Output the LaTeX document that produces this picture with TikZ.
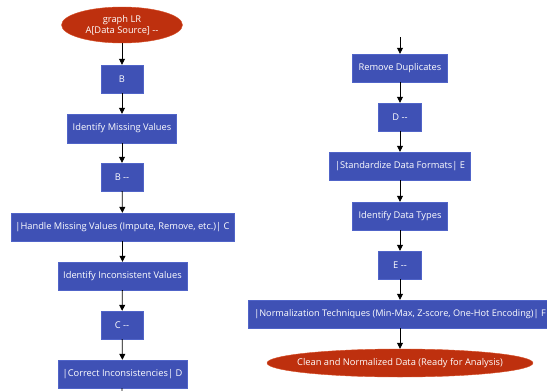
\documentclass[tikz,border=0pt]{standalone}
\usepackage{fontspec}
\setmainfont{Open Sans}
\usetikzlibrary{shapes.geometric,arrows.meta}
\definecolor{boxblue}{RGB}{63,81,181}
\definecolor{boxedge}{RGB}{80,100,200}
\definecolor{ovalred}{RGB}{190,48,14}
\definecolor{ovaledge}{RGB}{215,80,40}
\tikzset{
  stepbox/.style={draw=boxedge,fill=boxblue,text=white,font=\fontsize{9.3}{11}\selectfont,inner sep=0pt,minimum height=28pt,align=center},
  oval/.style={ellipse,draw=ovaledge,fill=ovalred,text=white,font=\fontsize{9.3}{11}\selectfont,inner sep=0pt,align=center},
  flow/.style={draw=black,line width=0.8pt,-{Triangle[length=6pt,width=6pt]}},
}
\begin{document}
\begin{tikzpicture}[x=1pt,y=-1pt]
\useasboundingbox (0,0) rectangle (547,391);
\node[oval,minimum width=121pt,minimum height=36pt] (A) at (122,25) {graph LR\\A[Data Source] -{}-};
\node[stepbox,minimum width=42pt] (B) at (122,79) {B};
\node[stepbox,minimum width=109pt,minimum height=29pt] (IMV) at (122,128.5) {Identify Missing Values};
\node[stepbox,minimum width=42pt] (B2) at (122,177) {B -{}-};
\node[stepbox,minimum width=223pt] (HMV) at (122.5,227) {|Handle Missing Values (Impute, Remove, etc.)| C};
\node[stepbox,minimum width=129pt] (IIV) at (122.5,276) {Identify Inconsistent Values};
\node[stepbox,minimum width=42pt] (C2) at (122,325) {C -{}-};
\node[stepbox,minimum width=129pt] (CI) at (122.5,374) {|Correct Inconsistencies| D};
\coordinate (Lend) at (122,391);
\coordinate (Rstart) at (400,37);
\node[stepbox,minimum width=95pt] (RD) at (400,68) {Remove Duplicates};
\node[stepbox,minimum width=43pt] (D2) at (400,117) {D -{}-};
\node[stepbox,minimum width=141pt] (SDF) at (400,166) {|Standardize Data Formats| E};
\node[stepbox,minimum width=95pt] (IDT) at (400,216) {Identify Data Types};
\node[stepbox,minimum width=43pt] (E2) at (400,265) {E -{}-};
\node[stepbox,minimum width=304pt,font=\fontsize{9.15}{11}\selectfont] (NT) at (400,314) {|Normalization Techniques (Min-Max, Z-score, One-Hot Encoding)| F};
\node[oval,minimum width=266pt,minimum height=28pt,inner xsep=-9pt] (CL) at (400,363) {Clean and Normalized Data (Ready for Analysis)};
\draw[flow] (A) -- (B);
\draw[flow] (B) -- (IMV);
\draw[flow] (IMV) -- (B2);
\draw[flow] (B2) -- (HMV);
\draw[flow] (HMV) -- (IIV);
\draw[flow] (IIV) -- (C2);
\draw[flow] (C2) -- (CI);
\draw[draw=black,line width=0.8pt] (CI) -- (Lend);
\draw[flow] (Rstart) -- (RD);
\draw[flow] (RD) -- (D2);
\draw[flow] (D2) -- (SDF);
\draw[flow] (SDF) -- (IDT);
\draw[flow] (IDT) -- (E2);
\draw[flow] (E2) -- (NT.north -| E2);
\draw[flow] (NT.south -| CL) -- (CL);
\end{tikzpicture}
\end{document}
